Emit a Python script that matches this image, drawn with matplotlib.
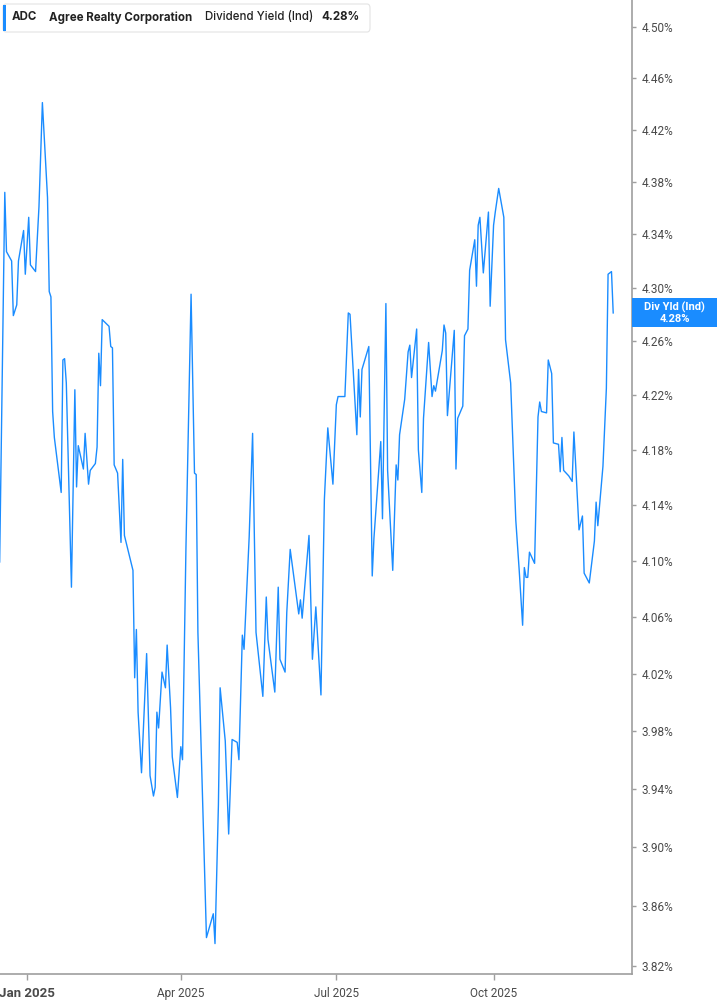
import matplotlib
matplotlib.use("Agg")
import matplotlib.pyplot as plt
import matplotlib.ticker as mticker
from matplotlib.patches import FancyBboxPatch, Rectangle
import pandas as pd

# ----------------------------------------------------------------
# Data: days since 2025-01-01 and dividend yield (%)
day_offset = [-16, -13, -12, -9, -8, -6, -5, -2, -1, 1, 2, 5, 7, 9, 12, 13, 14, 15, 16,
              20, 21, 22, 23, 26, 28, 29, 30, 33, 34, 36, 37, 40, 41, 42, 43, 44, 48,
              49, 50, 51, 53, 55, 56, 57, 62, 63, 64, 65, 67, 70, 72, 74, 75, 76, 77,
              79, 81, 82, 84, 85, 88, 90, 91, 93, 96, 98, 99, 100, 105, 107, 109, 110,
              112, 113, 116, 118, 120, 123, 124, 126, 127, 130, 132, 134, 138, 140, 141,
              145, 147, 148, 151, 152, 154, 159, 160, 161, 165, 167, 169, 172, 174, 176,
              179, 181, 182, 186, 188, 189, 193, 194, 195, 196, 200, 202, 203, 207, 208,
              210, 211, 214, 216, 217, 218, 221, 223, 224, 225, 228, 229, 231, 232, 235,
              237, 238, 239, 243, 244, 245, 246, 250, 251, 252, 255, 256, 258, 259, 262,
              263, 264, 265, 267, 270, 271, 273, 274, 276, 278, 279, 280, 283, 286, 288,
              290, 291, 292, 293, 294, 297, 299, 300, 301, 304, 305, 307, 308, 311, 312,
              313, 314, 317, 319, 320, 321, 323, 325, 326, 329, 332, 333, 334, 337, 339,
              340, 342, 343]
yield_pct = [4.099, 4.372, 4.327, 4.320, 4.279, 4.287, 4.320, 4.343, 4.310, 4.353, 4.317,
             4.312, 4.361, 4.441, 4.368, 4.297, 4.293, 4.208, 4.189, 4.149, 4.246, 4.247,
             4.229, 4.081, 4.224, 4.153, 4.183, 4.166, 4.192, 4.155, 4.165, 4.170, 4.182,
             4.251, 4.227, 4.276, 4.271, 4.256, 4.255, 4.169, 4.163, 4.113, 4.173, 4.118,
             4.093, 4.017, 4.051, 3.993, 3.951, 4.034, 3.949, 3.935, 3.941, 3.993, 3.982,
             4.021, 4.010, 4.040, 3.996, 3.962, 3.934, 3.969, 3.960, 4.109, 4.295, 4.163,
             4.162, 4.049, 3.839, 3.847, 3.855, 3.835, 3.929, 4.010, 3.973, 3.909, 3.974,
             3.972, 3.960, 4.047, 4.037, 4.117, 4.192, 4.049, 4.004, 4.074, 4.044, 4.007,
             4.081, 4.030, 4.021, 4.063, 4.108, 4.062, 4.072, 4.059, 4.118, 4.030, 4.067,
             4.005, 4.144, 4.196, 4.155, 4.213, 4.219, 4.219, 4.281, 4.280, 4.191, 4.239,
             4.204, 4.239, 4.256, 4.089, 4.116, 4.186, 4.130, 4.288, 4.165, 4.093, 4.169,
             4.158, 4.191, 4.217, 4.252, 4.257, 4.233, 4.269, 4.180, 4.149, 4.203, 4.259,
             4.219, 4.227, 4.223, 4.253, 4.272, 4.266, 4.205, 4.268, 4.166, 4.203, 4.212,
             4.264, 4.269, 4.313, 4.336, 4.301, 4.347, 4.353, 4.311, 4.357, 4.286, 4.347,
             4.357, 4.375, 4.360, 4.353, 4.261, 4.229, 4.129, 4.093, 4.054, 4.095, 4.088,
             4.088, 4.106, 4.098, 4.204, 4.215, 4.208, 4.207, 4.246, 4.236, 4.185, 4.184,
             4.164, 4.189, 4.165, 4.161, 4.157, 4.193, 4.170, 4.122, 4.132, 4.091, 4.084,
             4.114, 4.142, 4.125, 4.168, 4.225, 4.310, 4.312, 4.281]
y_ticks = [3.82, 3.86, 3.90, 3.94, 3.98, 4.02, 4.06, 4.10, 4.14, 4.18, 4.22,
           4.26, 4.30, 4.34, 4.38, 4.42, 4.46, 4.50]
x_tick_dates = ["2025-01-01", "2025-04-01", "2025-07-01", "2025-10-01"]
x_tick_labels = ["Jan 2025", "Apr 2025", "Jul 2025", "Oct 2025"]
last_value = 4.28

BLUE = "#1a8cff"
GRAY = "#9e9e9e"
TXT = "#4a4a4a"

base = pd.Timestamp("2025-01-01")
dates = base + pd.to_timedelta(day_offset, unit="D")

# ----------------------------------------------------------------
W, H = 717, 1005
fig = plt.figure(figsize=(W / 100, H / 100), dpi=100)
ax = fig.add_axes([0, 31 / H, 632 / W, 974 / H])

ax.plot(dates, yield_pct, color=BLUE, lw=1.0)

ax.set_yscale("log")
ax.set_ylim(3.8147, 4.5212)
ax.set_xlim(base - pd.Timedelta(days=15.8), base + pd.Timedelta(days=354))

ax.yaxis.tick_right()
ax.yaxis.set_major_locator(mticker.FixedLocator(y_ticks))
ax.yaxis.set_minor_locator(mticker.NullLocator())
ax.yaxis.set_major_formatter(mticker.FuncFormatter(lambda v, p: "%.2f%%" % v))
ax.tick_params(axis="y", which="major", length=3, width=1, color=GRAY,
               labelsize=8.5, labelcolor=TXT, pad=4)

ax.set_xticks(pd.to_datetime(x_tick_dates))
ax.set_xticklabels(x_tick_labels)
ax.tick_params(axis="x", length=4, width=1, color=GRAY, labelsize=8.5,
               labelcolor=TXT, pad=5)
for lab in ax.get_xticklabels():
    lab.set_fontfamily("Roboto")
for lab in ax.get_yticklabels():
    lab.set_fontfamily("Roboto")
first = ax.get_xticklabels()[0]
first.set_fontweight("bold")
first.set_fontsize(9.5)

for s in ["top", "left"]:
    ax.spines[s].set_visible(False)
for s in ["right", "bottom"]:
    ax.spines[s].set_color(GRAY)
    ax.spines[s].set_linewidth(1.2)

# ----------------------------------------------------------------
# Header box
def fx(px):
    return px / W

def fy(py):
    return 1 - py / H

box = FancyBboxPatch((fx(3), fy(32)), fx(370) - fx(3), fy(4) - fy(32),
                     boxstyle="round,pad=0,rounding_size=0.004",
                     transform=fig.transFigure, facecolor="white",
                     edgecolor="#e3e3e3", lw=0.8, zorder=5)
fig.patches.append(box)
fig.patches.append(Rectangle((fx(3), fy(31)), fx(3.5) - fx(0.5), fy(5) - fy(31),
                             transform=fig.transFigure, facecolor=BLUE,
                             edgecolor="none", zorder=6))
hdr_y = fy(17.5)
hdr = dict(fontsize=8.3, color="#222222", va="center", family="Inter", zorder=7)
fig.text(fx(12), hdr_y, "ADC", fontweight="bold", **hdr)
fig.text(fx(49), hdr_y, "Agree Realty Corporation", fontweight="bold", **hdr)
fig.text(fx(205), hdr_y, "Dividend Yield (Ind)", fontweight="medium", **hdr)
fig.text(fx(321), hdr_y, "%.2f%%" % last_value, fontweight="bold", **hdr)

# Last value tag on the right axis
fig.patches.append(Rectangle((fx(632), fy(327)), fx(717) - fx(632), fy(298) - fy(327),
                             transform=fig.transFigure, facecolor=BLUE,
                             edgecolor="none", zorder=6))
fig.text(fx(674.5), fy(307), "Div Yld (Ind)", fontsize=8, fontweight="bold",
         color="white", ha="center", va="center", family="Roboto", zorder=7)
fig.text(fx(674.5), fy(319), "%.2f%%" % last_value, fontsize=8, fontweight="bold",
         color="white", ha="center", va="center", family="Roboto", zorder=7)

fig.savefig("out.png", dpi=100)
